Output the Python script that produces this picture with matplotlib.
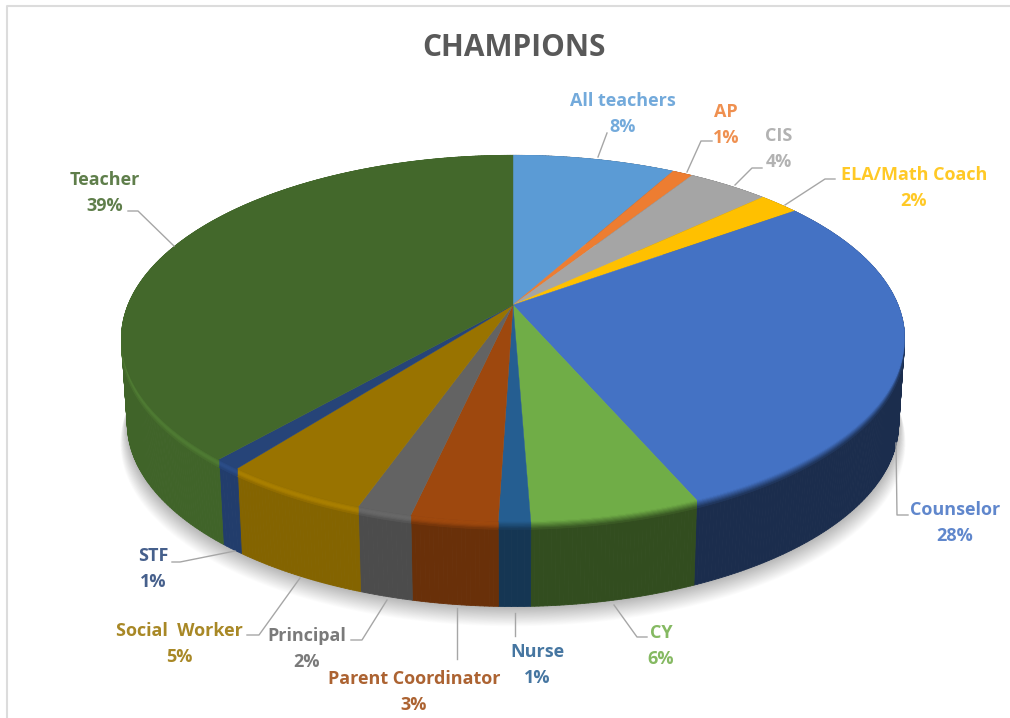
# champions 3d pie, drawn by hand since matplotlib has no 3d pie
import numpy as np
import matplotlib.pyplot as plt
from matplotlib.collections import PolyCollection
from matplotlib.colors import to_rgb

categories = ['All teachers', 'AP', 'CIS', 'ELA/Math Coach', 'Counselor', 'CY',
              'Nurse', 'Parent Coordinator', 'Principal', 'Social  Worker', 'STF', 'Teacher']
shares = [8.0, 1.0, 4.0, 2.0, 28.5, 5.9, 1.1, 3.0, 1.9, 5.1, 0.95, 38.55]
pct_labels = ['8%', '1%', '4%', '2%', '28%', '6%', '1%', '3%', '2%', '5%', '1%', '39%']
colors = ['#5B9BD5', '#ED7D31', '#A5A5A5', '#FFC000', '#4472C4', '#70AD47',
          '#255E91', '#9E480E', '#636363', '#997300', '#264478', '#43682B']

# label centres and leader lines, in pixels
label_pos = [(623, 114), (726, 125), (779, 149), (914, 188), (955, 523), (661, 646),
             (537, 665), (414, 692), (307, 649), (179, 644), (153, 569), (105, 193)]
leaders = [[(598, 157), (607, 133)],
           [(687, 172), (701, 141), (712, 141)],
           [(735, 185), (752, 168), (762, 168)],
           [(785, 205), (825, 179), (835, 179)],
           [(896, 443), (897, 515), (908, 515)],
           [(614, 605), (637, 637), (647, 637)],
           [(515, 613), (515, 636)],
           [(457, 608), (457, 659)],
           [(387, 600), (362, 640), (351, 640)],
           [(300, 578), (259, 635), (247, 635)],
           [(235, 551), (180, 562), (172, 562)],
           [(174, 246), (138, 211), (128, 211)]]

# pie geometry: circle seen in perspective
CX, CY = 513, 305
A, B, K = 385, 177, 0.1825
DEPTH = 85
BEVEL = 8


def project(theta):
    # theta in degrees, clockwise from 12 o'clock
    t = np.radians(theta)
    u, v = np.sin(t), np.cos(t)
    w = 1 + K * v
    return CX + A * u / w, CY - B * v / w


def side_shade(theta):
    # light comes from the left, so the right side goes dark
    return np.interp(theta, [90, 150, 170, 185, 200, 215, 270, 360],
                     [0.39, 0.40, 0.45, 0.64, 0.82, 0.90, 0.95, 1.0])


fig = plt.figure(figsize=(10.1, 7.18), dpi=100)
ax = fig.add_axes([0, 0, 1, 1])
ax.set_xlim(0, 1010)
ax.set_ylim(718, 0)
ax.axis('off')

# chart frame
ax.plot([7, 7, 1010], [718, 5.5, 5.5], color='#dcdcdc', lw=1.5)

theta_all = np.linspace(0, 360, 361)
rx, ry = project(theta_all)

# soft shadow under the pie
for grow in np.linspace(22, 1, 24):
    ax.fill(CX + (rx - CX) * (0.985 + grow * 0.0008), ry + DEPTH + grow * 0.9,
            color='black', alpha=0.012, lw=0, zorder=1)

edges = np.concatenate([[0], np.cumsum(shares)]) / np.sum(shares) * 360

# side wall and rim bevel, slice by slice
for i, color in enumerate(colors):
    base = np.array(to_rgb(color))
    th = np.linspace(edges[i], edges[i + 1], max(int(edges[i + 1] - edges[i]) * 2, 3))
    x, y = project(th)
    f = side_shade((edges[i] + edges[i + 1]) / 2)
    xb = CX + (x - CX) * 0.985
    # one quad per step, a single outline would cross itself at the far left and right
    quads = [[(x[j], y[j]), (x[j + 1], y[j + 1]), (xb[j + 1], y[j + 1] + DEPTH), (xb[j], y[j] + DEPTH)]
             for j in range(len(th) - 1)]
    ax.add_collection(PolyCollection(quads, facecolors=[base * f], edgecolors=[base * f],
                                     linewidths=0.6, zorder=2))

    # bevel goes from the top colour to the wall colour
    steps = np.linspace(0, 1, 8)
    for s0, s1 in zip(steps[:-1], steps[1:]):
        glow = 1 + 0.22 * f * np.sin(np.pi * s0) * (f > 0.6)
        c = np.clip(base * (1 + (f - 1) * s0) * glow, 0, 1)
        ax.fill(np.r_[x, x[::-1]], np.r_[y + s0 * BEVEL, (y + s1 * BEVEL)[::-1]], color=c, lw=0.5, zorder=3)

# top face
for i, color in enumerate(colors):
    th = np.linspace(edges[i], edges[i + 1], max(int(edges[i + 1] - edges[i]) * 2, 3))
    x, y = project(th)
    ax.fill(np.r_[CX, x], np.r_[CY, y], color=color, lw=0.3, zorder=4)

# labels
font = ['Open Sans', 'DejaVu Sans']
for i, name in enumerate(categories):
    ax.text(label_pos[i][0], label_pos[i][1], name + '\n' + pct_labels[i], color=colors[i], alpha=0.85,
            ha='center', va='center', fontsize=13, fontweight='bold', family=font, linespacing=1.6, zorder=6)
    lx, ly = zip(*leaders[i])
    ax.plot(lx, ly, color='#a6a6a6', lw=1, zorder=5)

ax.text(514, 48, 'CHAMPIONS', color='#595959', ha='center', va='center',
        fontsize=21.5, fontweight='bold', family=font)

plt.savefig('out.png', dpi=100)
